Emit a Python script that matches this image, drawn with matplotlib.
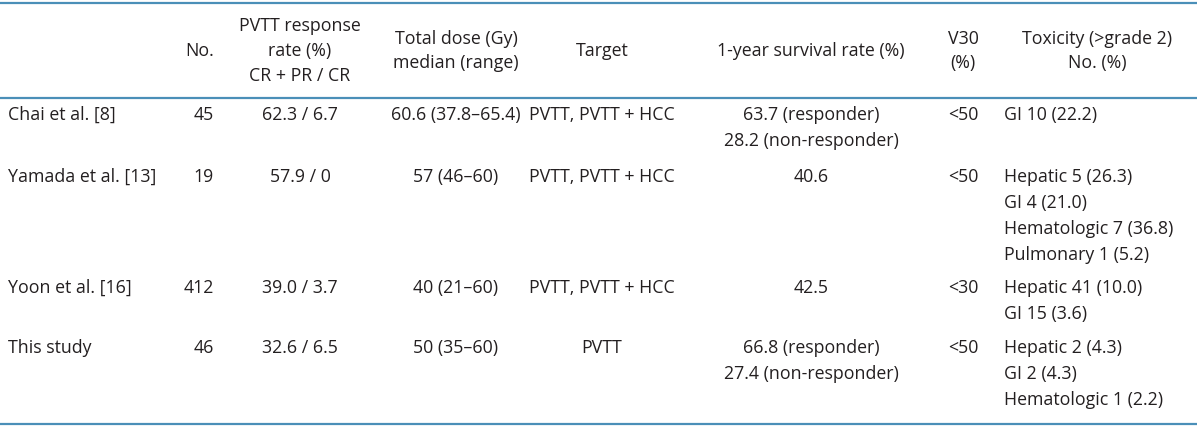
import matplotlib.pyplot as plt

# ── table data ───────────────────────────────────────────────────
headers = [
    "",
    "No.",
    "PVTT response\nrate (%)\nCR + PR / CR",
    "Total dose (Gy)\nmedian (range)",
    "Target",
    "1-year survival rate (%)",
    "V30\n(%)",
    "Toxicity (>grade 2)\nNo. (%)",
]
studies   = ["Chai et al. [8]", "Yamada et al. [13]", "Yoon et al. [16]", "This study"]
patients  = ["45", "19", "412", "46"]
response  = ["62.3 / 6.7", "57.9 / 0", "39.0 / 3.7", "32.6 / 6.5"]
dose      = ["60.6 (37.8\u201365.4)", "57 (46\u201360)", "40 (21\u201360)", "50 (35\u201360)"]
target    = ["PVTT, PVTT + HCC", "PVTT, PVTT + HCC", "PVTT, PVTT + HCC", "PVTT"]
survival  = [["63.7 (responder)", "28.2 (non-responder)"],
             ["40.6"],
             ["42.5"],
             ["66.8 (responder)", "27.4 (non-responder)"]]
v30       = ["<50", "<50", "<30", "<50"]
toxicity  = [["GI 10 (22.2)"],
             ["Hepatic 5 (26.3)", "GI 4 (21.0)", "Hematologic 7 (36.8)", "Pulmonary 1 (5.2)"],
             ["Hepatic 41 (10.0)", "GI 15 (3.6)"],
             ["Hepatic 2 (4.3)", "GI 2 (4.3)", "Hematologic 1 (2.2)"]]
# ─────────────────────────────────────────────────────────────────

plt.rcParams['font.family'] = ['Open Sans', 'DejaVu Sans']
fs = 12.8
tc = "#231f20"
lc = "#4a8fb8"

fig = plt.figure(figsize=(12, 4.28), dpi=100)
ax = fig.add_axes([0, 0, 1, 1])
ax.set_xlim(0, 1200)
ax.set_ylim(428, 0)
ax.axis("off")

# column anchors (x, ha)
cols = [(8, "left"), (214, "right"), (300, "center"), (456, "center"),
        (602, "center"), (811, "center"), (963, "center"), (1097, "center")]
body_cols = cols[:7] + [(1004, "left")]
lh = 26

# header
for (x, ha), h in zip(cols, headers):
    if not h:
        continue
    ax.text(x, 51, h, ha=ha, va="center", fontsize=fs, color=tc,
            linespacing=1.47, multialignment="center")

# rules
for y in (3, 98, 424):
    ax.plot([0, 1197], [y, y], color=lc, lw=1.6, solid_capstyle="butt")

# body
row_y = [115, 177, 288, 348]
for i, y0 in enumerate(row_y):
    cells = [[studies[i]], [patients[i]], [response[i]], [dose[i]],
             [target[i]], survival[i], [v30[i]], toxicity[i]]
    for (x, ha), lines in zip(body_cols, cells):
        for k, s in enumerate(lines):
            ax.text(x, y0 + k * lh, s, ha=ha, va="center", fontsize=fs, color=tc)

fig.savefig("out.png", dpi=100)
